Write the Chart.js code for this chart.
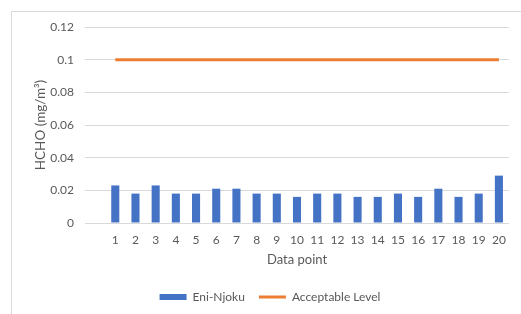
<!DOCTYPE html>
<html>
<head>
<meta charset="utf-8">
<script src="https://cdn.jsdelivr.net/npm/chart.js@4.4.1/dist/chart.umd.min.js"></script>
<style>
  html, body { margin: 0; padding: 0; background: #fff; overflow: hidden; }
  #wrap { position: relative; width: 521px; height: 314px; }
  #frame { position: absolute; left: 11px; top: 11px; width: 600px; height: 400px; border: 1px solid #d9d9d9; box-sizing: border-box; }
  canvas { position: absolute; left: 0; top: 0; }
</style>
</head>
<body>
<div id="wrap">
  <div id="frame"></div>
  <canvas id="c" width="521" height="314"></canvas>
</div>
<script>
// Categories (first slot is empty, as in the original chart)
const categories = ['', '1', '2', '3', '4', '5', '6', '7', '8', '9', '10',
  '11', '12', '13', '14', '15', '16', '17', '18', '19', '20'];
// Eni-Njoku HCHO measurements (mg/m³)
const eniNjoku = [null, 0.023, 0.018, 0.023, 0.018, 0.018, 0.021, 0.021, 0.018, 0.018, 0.016,
  0.018, 0.018, 0.016, 0.016, 0.018, 0.016, 0.021, 0.016, 0.018, 0.029];
// Acceptable level (mg/m³)
const acceptableLevel = [null, 0.1, 0.1, 0.1, 0.1, 0.1, 0.1, 0.1, 0.1, 0.1, 0.1,
  0.1, 0.1, 0.1, 0.1, 0.1, 0.1, 0.1, 0.1, 0.1, 0.1];
// Y axis ticks
const yTicks = [0, 0.02, 0.04, 0.06, 0.08, 0.1, 0.12];
const yTickLabels = ['0', '0.02', '0.04', '0.06', '0.08', '0.1', '0.12'];

const FONT = 'Lato, "Open Sans", sans-serif';
const TXT = '#595959';

new Chart(document.getElementById('c'), {
  data: {
    labels: categories,
    datasets: [
      {
        type: 'line',
        label: 'Acceptable Level',
        data: acceptableLevel,
        borderColor: '#ED7D31',
        backgroundColor: '#ED7D31',
        borderWidth: 3,
        pointRadius: 0,
        pointStyle: 'line',
        order: 0
      },
      {
        type: 'bar',
        label: 'Eni-Njoku',
        data: eniNjoku,
        backgroundColor: '#4472C4',
        borderWidth: 0,
        categoryPercentage: 1,
        barPercentage: 0.4,
        pointStyle: 'rect',
        order: 1
      }
    ]
  },
  options: {
    responsive: false,
    animation: false,
    devicePixelRatio: 1,
    layout: { padding: { left: 31, right: 12, top: 27, bottom: 1 } },
    plugins: {
      tooltip: { enabled: false },
      legend: {
        position: 'bottom',
        reverse: true,
        labels: {
          color: TXT,
          font: { family: FONT, size: 12 },
          usePointStyle: true,
          pointStyleWidth: 27,
          boxHeight: 6,
          padding: 14,
          generateLabels(chart) {
            const items = Chart.defaults.plugins.legend.labels.generateLabels(chart);
            items.forEach(it => {
              const ds = chart.data.datasets[it.datasetIndex];
              it.pointStyle = ds.pointStyle;
              if (ds.type === 'line') { it.lineWidth = 3; it.strokeStyle = '#ED7D31'; }
              else { it.lineWidth = 0; }
            });
            return items;
          }
        }
      }
    },
    scales: {
      x: {
        offset: true,
        grid: { display: false, drawTicks: false },
        border: { display: false },
        afterFit(scale) { scale.height = 54; },
        ticks: { color: TXT, font: { family: FONT, size: 12 }, padding: 10, maxRotation: 0, autoSkip: false },
        title: { display: true, text: 'Data point', color: TXT, font: { family: FONT, size: 13 }, padding: { top: 0, bottom: 9 } }
      },
      y: {
        min: 0,
        max: 0.12,
        afterBuildTicks(scale) { scale.ticks = yTicks.map(v => ({ value: v })); },
        afterFit(scale) { scale.width = 54; },
        grid: { color: '#d9d9d9', lineWidth: 1, drawTicks: false },
        border: { display: false },
        ticks: {
          color: TXT, font: { family: FONT, size: 12 }, padding: 11,
          callback(v) { const i = yTicks.indexOf(v); return i >= 0 ? yTickLabels[i] : ''; }
        },
        title: { display: true, text: 'HCHO (mg/m³)', color: TXT, font: { family: FONT, size: 13.5 }, padding: { top: 2, bottom: 0 } }
      }
    }
  }
});
</script>
</body>
</html>
